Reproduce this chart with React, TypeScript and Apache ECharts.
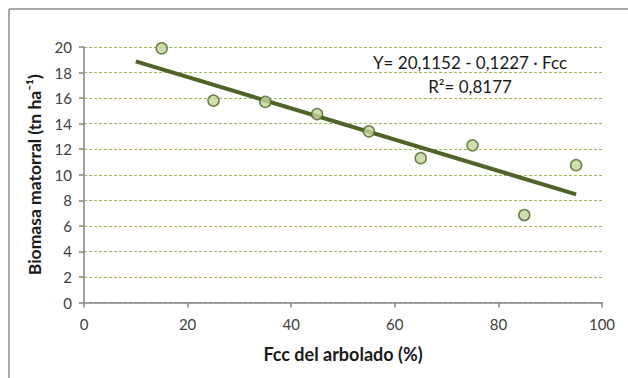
import React, { useEffect, useRef } from "react";
import * as echarts from "echarts";

const fccValues = [15, 25, 35, 45, 55, 65, 75, 85, 95];
const biomasaValues = [19.9, 15.8, 15.7, 14.75, 13.4, 11.3, 12.3, 6.85, 10.75];
const trendX = [10, 95];
const trendY = [18.88, 8.46];
const equationText = "Y= 20,1152 - 0,1227 · Fcc";
const r2Text = "R²= 0,8177";

export default function App() {
  const ref = useRef<HTMLDivElement>(null);
  useEffect(() => {
    if (!ref.current) return;
    const chart = echarts.init(ref.current, null, { renderer: "svg" });
    const font = "Lato, 'Open Sans', sans-serif";
    chart.setOption({
      animation: false,
      grid: { left: 84, right: 26, top: 47, bottom: 75.5 },
      graphic: [
        { type: "line", shape: { x1: 9, y1: 9, x2: 628, y2: 9 }, style: { stroke: "#8c8c8c", lineWidth: 1.5 } },
        { type: "line", shape: { x1: 9, y1: 9, x2: 9, y2: 378 }, style: { stroke: "#8c8c8c", lineWidth: 1.5 } },
        {
          type: "text", x: 470, y: 62,
          style: { text: equationText, font: `17px ${font}`, fill: "#1a1a1a", align: "center", verticalAlign: "middle" },
        },
        {
          type: "text", x: 470, y: 86,
          style: { text: r2Text, font: `17px ${font}`, fill: "#1a1a1a", align: "center", verticalAlign: "middle" },
        },
      ],
      xAxis: {
        type: "value", min: 0, max: 100, interval: 20,
        name: "Fcc del arbolado (%)", nameLocation: "middle", nameGap: 42,
        nameTextStyle: { fontFamily: font, fontWeight: "bold", fontSize: 18, color: "#1a1a1a" },
        axisLine: { show: true, lineStyle: { color: "#868686", width: 1.5 } },
        axisTick: { show: true, length: 5, lineStyle: { color: "#868686", width: 1.5 } },
        axisLabel: { fontFamily: font, fontSize: 15, color: "#404040", margin: 14 },
        splitLine: { show: false },
      },
      yAxis: {
        type: "value", min: 0, max: 20, interval: 2,
        name: "Biomasa matorral (tn ha⁻¹)", nameLocation: "middle", nameGap: 38, nameRotate: 90,
        nameTextStyle: { fontFamily: font, fontWeight: "bold", fontSize: 17.5, color: "#1a1a1a" },
        axisLine: { show: true, lineStyle: { color: "#868686", width: 1.5 } },
        axisTick: { show: true, length: 5, lineStyle: { color: "#868686", width: 1.5 } },
        axisLabel: { fontFamily: font, fontSize: 15, color: "#404040", margin: 12 },
        splitLine: { show: true, lineStyle: { color: "#9bbb59", type: [3, 2], width: 1 } },
      },
      series: [
        {
          type: "line",
          data: trendX.map((x, i) => [x, trendY[i]]),
          symbol: "none",
          lineStyle: { color: "#4f6228", width: 4 },
          z: 2,
        },
        {
          type: "scatter",
          data: fccValues.map((x, i) => [x, biomasaValues[i]]),
          symbol: "circle",
          symbolSize: 11,
          itemStyle: { color: "#c3d69b", borderColor: "#4f6228", borderWidth: 1.5 },
          z: 3,
        },
      ],
    });
    return () => chart.dispose();
  }, []);
  return <div ref={ref} style={{ width: 628, height: 378, position: "absolute", left: 0, top: 0 }} />;
}
